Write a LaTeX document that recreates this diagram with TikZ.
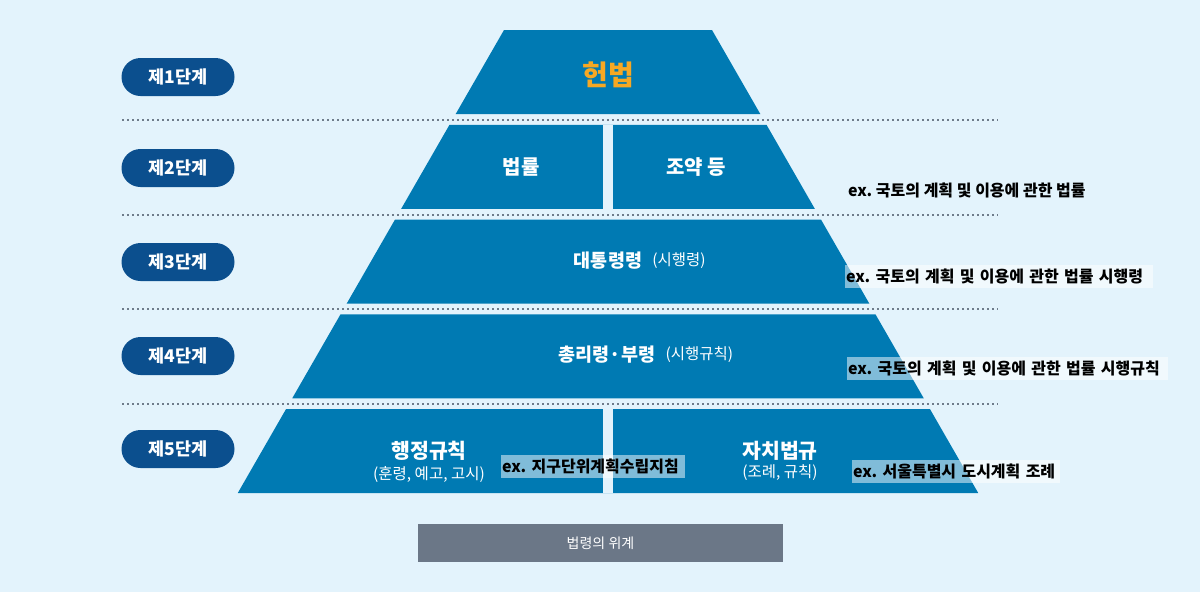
\documentclass[tikz,border=0pt]{standalone}
\usepackage{fontspec}
\usetikzlibrary{positioning,calc}
\setmainfont{Noto Sans CJK KR}
\definecolor{pageblue}{HTML}{E3F3FC}
\definecolor{lawblue}{HTML}{007AB3}
\definecolor{stepnavy}{HTML}{0B4F8E}
\definecolor{goldtxt}{HTML}{F7A823}
\definecolor{dotgray}{HTML}{6E7B8A}
\definecolor{capgray}{HTML}{6B7787}
\newcommand{\fsz}[1]{\fontsize{#1}{#1}\selectfont}
\frenchspacing

\begin{document}
\begin{tikzpicture}[x=1pt,y=-1pt,
  stagepill/.style={fill=stepnavy,text=white,font=\bfseries\fsz{17.5},rounded corners=19pt,minimum width=113pt,minimum height=38pt,inner sep=0pt},
  tiertxt/.style={text=white,font=\bfseries\fsz{20},inner sep=0pt},
  subtxt/.style={text=white,font=\fsz{15.5},inner sep=0pt},
  extxt/.style={font=\bfseries\fsz{16},inner xsep=1pt,inner ysep=0pt,anchor=west,minimum height=23pt},
  exbox/.style={extxt,fill=white,fill opacity=0.5,text opacity=1,align=left},
  sepline/.style={dotgray,line width=2pt,dash pattern=on 2pt off 3pt}]
\fill[pageblue] (0,0) rectangle (1200,592);
\useasboundingbox (0,0) rectangle (1200,592);
% pyramid tiers
\foreach \i in {0,...,4}{
  \pgfmathsetmacro\yt{30+94.75*\i}
  \pgfmathsetmacro\yb{\yt+84}
  \fill[lawblue] ({504-0.575*(\yt-30)},\yt) -- ({712+0.575*(\yt-30)},\yt)
    -- ({712+0.575*(\yb-30)},\yb) -- ({504-0.575*(\yb-30)},\yb) -- cycle;
}
% split tiers 2 and 5
\foreach \yt in {124.75,409}{\fill[pageblue] (603,\yt) rectangle (613,{\yt+84});}
% separators
\foreach \y in {119.5,214.5,308.5,403.5}{\draw[sepline] (122,\y) -- (998,\y);}
% stage labels
\foreach \n/\y in {1/77,2/168,3/262,4/356,5/449}{\node[stagepill] (step\n) at (178,\y) {제\n{}단계};}
% tier texts
\node[font=\bfseries\fsz{28},text=goldtxt] (hunbeop) at (608,75) {헌법};
\node[tiertxt] (beopryul) at (521,167) {법률};
\node[tiertxt] (joyak) at (696,167) {조약 등};
\node[tiertxt,font=\bfseries\fsz{18.5}] (daetong) at (608,261) {대통령령};
\node[subtxt,right=10pt of daetong] (daetongsub) {(시행령)};
\node[tiertxt,font=\bfseries\fsz{18.5}] (chongri) at (607,355) {총리령·부령};
\node[subtxt,right=10pt of chongri] (chongrisub) {(시행규칙)};
\node[tiertxt,font=\bfseries\fsz{20.5}] (haengjeong) at (429,451) {행정규칙};
\node[subtxt] (haengjeongsub) at (429,475) {(훈령, 예고, 고시)};
\node[tiertxt,font=\bfseries\fsz{20.5}] (jachi) at (780,451) {자치법규};
\node[subtxt] (jachisub) at (780,473) {(조례, 규칙)};
% examples
\node[extxt] (ex2) at (847,190) {ex. 국토의 계획 및 이용에 관한 법률};
\node[exbox,text width=306pt] (ex3) at (845,276.5) {ex. 국토의 계획 및 이용에 관한 법률 시행령};
\node[exbox,text width=319pt] (ex4) at (847,368) {ex. 국토의 계획 및 이용에 관한 법률 시행규칙};
\node[exbox,text width=206pt] (ex5b) at (852,471) {ex. 서울특별시 도시계획 조례};
\node[exbox,text width=182pt] (ex5a) at (501,466.5) {ex. 지구단위계획수립지침};
% caption
\node[fill=capgray,text=white,font=\fsz{14},minimum width=365pt,minimum height=38pt] (caption) at (600.5,543) {법령의 위계};
\end{tikzpicture}
\end{document}
